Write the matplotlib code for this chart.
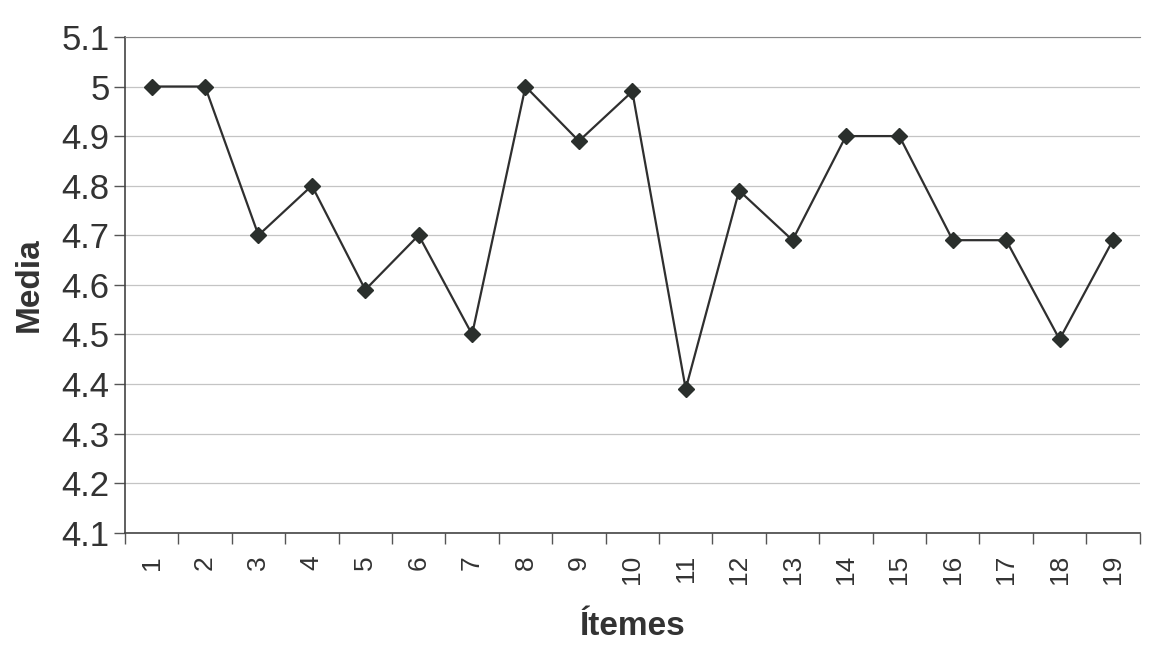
import matplotlib.pyplot as plt
import numpy as np


items = [str(i) for i in range(1, 20)]
media = [5.0, 5.0, 4.7, 4.8, 4.59, 4.7, 4.5, 5.0, 4.89, 4.99,
         4.39, 4.79, 4.69, 4.9, 4.9, 4.69, 4.69, 4.49, 4.69]
y_ticks = [4.1, 4.2, 4.3, 4.4, 4.5, 4.6, 4.7, 4.8, 4.9, 5.0, 5.1]
y_labels = ["4.1", "4.2", "4.3", "4.4", "4.5", "4.6", "4.7", "4.8", "4.9", "5", "5.1"]


def main():
    plt.rcParams["font.family"] = ["Liberation Sans", "DejaVu Sans"]

    fig = plt.figure(figsize=(11.57, 6.48), dpi=100)
    ax = fig.add_axes([0.108, 0.178, 0.877, 0.765])

    x = np.arange(1, len(media) + 1)
    ax.plot(x, media, color="#2f2f2f", linewidth=1.6, marker="D",
            markersize=8.5, markerfacecolor="#2a2f2c", markeredgecolor="#2a2f2c",
            zorder=3)

    ax.set_xlim(0.5, len(media) + 0.5)
    ax.set_ylim(4.1, 5.1)

    ax.set_yticks(y_ticks)
    ax.set_yticklabels(y_labels, fontsize=25, color="#333333")
    ax.tick_params(axis="y", direction="out", length=8, width=1, color="#555555", pad=3)

    ax.set_xticks(x)
    ax.set_xticklabels(items, rotation=90, fontsize=19, color="#333333")
    ax.set_xticks(np.arange(0.5, len(media) + 1), minor=True)
    ax.tick_params(axis="x", which="major", length=0, pad=16)
    ax.tick_params(axis="x", which="minor", direction="out", length=8, width=1, color="#555555")

    ax.grid(True, axis="y", color="#c4c4c4", linewidth=0.9)
    ax.set_axisbelow(True)

    ax.spines["right"].set_visible(False)
    ax.spines["top"].set_color("#888888")
    ax.spines["left"].set_color("#444444")
    ax.spines["bottom"].set_color("#444444")
    ax.spines["left"].set_linewidth(1.2)
    ax.spines["bottom"].set_linewidth(1.2)

    ax.set_ylabel("Media", fontsize=24, fontweight="bold", color="#333333", labelpad=12)
    ax.set_xlabel("Ítemes", fontsize=24, fontweight="bold", color="#333333", labelpad=19)

    fig.savefig("out.png", dpi=100)
    plt.close(fig)


if __name__ == "__main__":
    main()
